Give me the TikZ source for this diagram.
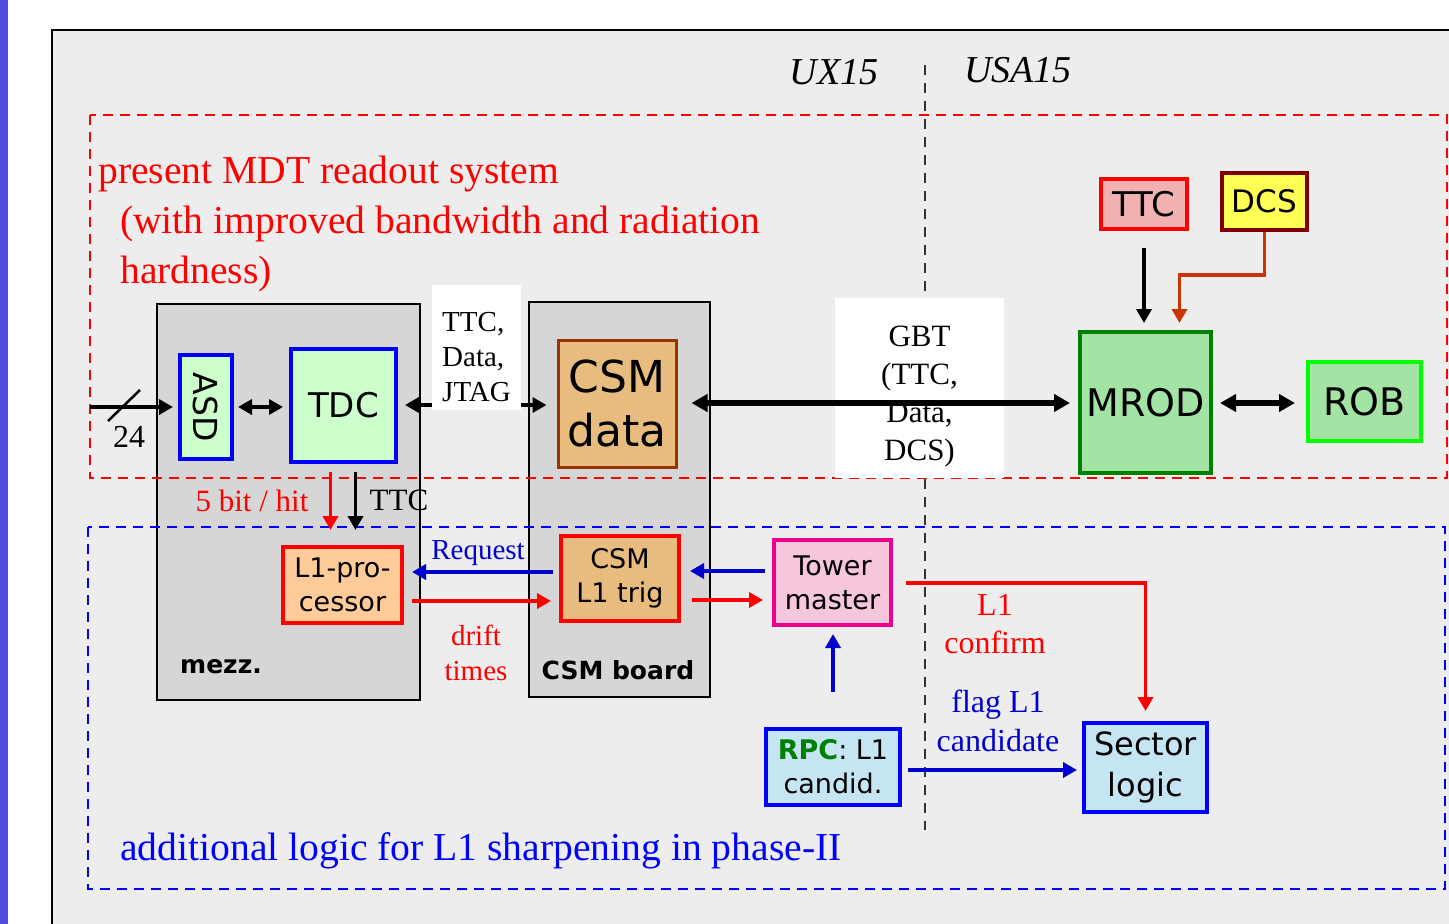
\documentclass[tikz,border=0pt]{standalone}
\usepackage{fontspec}
\setmainfont{Liberation Serif}
\setsansfont{DejaVu Sans}
\usetikzlibrary{arrows.meta,positioning}

\definecolor{barpurple}{RGB}{80,76,226}
\definecolor{panelgrey}{RGB}{237,237,237}
\definecolor{boardgrey}{RGB}{214,214,214}
\definecolor{chipgreen}{RGB}{204,255,204}
\definecolor{csmtan}{RGB}{232,188,126}
\definecolor{csmbrown}{RGB}{153,51,0}
\definecolor{rodgreen}{RGB}{163,227,163}
\definecolor{darkgreen}{RGB}{0,128,0}
\definecolor{ttcpink}{RGB}{242,178,178}
\definecolor{dcsyellow}{RGB}{255,255,85}
\definecolor{dcsred}{RGB}{128,0,0}
\definecolor{dcsline}{RGB}{204,51,0}
\definecolor{peach}{RGB}{255,204,153}
\definecolor{towerpink}{RGB}{245,198,220}
\definecolor{lightblue}{RGB}{198,229,242}
\definecolor{arrowblue}{RGB}{0,0,204}

\begin{document}
\begin{tikzpicture}[x=1pt,y=-1pt,
	main node/.style = {draw, line width=4pt, inner sep=0pt, align=center, font=\sffamily\fontsize{27}{34}\selectfont},
	board node/.style = {draw, fill=boardgrey, line width=1.5pt, inner sep=0pt},
	white node/.style = {fill=white, inner sep=0pt, align=center},
	text node/.style = {inner sep=0pt, align=center, font=\fontsize{31}{38}\selectfont},
	arr/.style = {-{Triangle[length=14pt,width=15pt]}, line width=3.5pt},
	arr both/.style = {{Triangle[length=14pt,width=15pt]}-{Triangle[length=14pt,width=15pt]}, line width=3.5pt},
	arr thick/.style = {{Triangle[length=16pt,width=17pt]}-{Triangle[length=16pt,width=17pt]}, line width=5.5pt},
	dash frame/.style = {dash pattern=on 10pt off 7pt, line width=2.5pt}]
	
	\clip (0,0) rectangle (1449,924);
	\fill[white] (0,0) rectangle (1449,924);
	\fill[barpurple] (0,0) rectangle (8,924);
	\filldraw[fill=panelgrey, line width=1.5pt] (52,30) rectangle (1480,960);
	
	\node[board node, minimum width=263pt, minimum height=396pt] (13) at (288.5,502) {};
	\node[board node, minimum width=181pt, minimum height=395pt] (14) at (619.5,499.5) {};
	
	\draw[dash frame, red] (90,115) rectangle (1447,478);
	\draw[dash frame, blue] (88,527) rectangle (1445,889);
	\draw[dash pattern=on 10pt off 8pt, line width=2.5pt, black!80] (925,65) -- (925,830);
	
	\node[white node, minimum width=169pt, minimum height=180pt,
		label={[align=center, font=\fontsize{31}{38}\selectfont, yshift=-9pt]center:{GBT\\(TTC,\\Data,\\DCS)}}] (16) at (919.5,388) {};
	
	\node[main node, fill=chipgreen, draw=blue, rotate=-90, minimum width=104pt, minimum height=52pt, font=\sffamily\fontsize{33}{40}\selectfont] (1) at (206,407) {ASD};
	\node[main node, fill=chipgreen, draw=blue, minimum width=105pt, minimum height=113pt, font=\sffamily\fontsize{34}{40}\selectfont] (2) at (343.5,405.5) {TDC};
	\node[main node, fill=csmtan, draw=csmbrown, line width=3pt, minimum width=118pt, minimum height=127pt, font=\sffamily\fontsize{44}{54}\selectfont] (3) at (617,403.5) {CSM\\data};
	\node[main node, fill=rodgreen, draw=darkgreen, minimum width=131pt, minimum height=141pt, font=\sffamily\fontsize{38}{46}\selectfont] (4) at (1145.5,402.5) {MROD};
	\node[main node, fill=rodgreen, draw=green, minimum width=113pt, minimum height=79pt, font=\sffamily\fontsize{38}{46}\selectfont] (5) at (1364.5,401.5) {ROB};
	\node[main node, fill=ttcpink, draw=red, line width=3.5pt, minimum width=86pt, minimum height=50pt, font=\sffamily\fontsize{34}{40}\selectfont] (6) at (1144,204) {TTC};
	\node[main node, fill=dcsyellow, draw=dcsred, minimum width=85pt, minimum height=57pt, font=\sffamily\fontsize{31}{38}\selectfont] (7) at (1264.5,201.5) {DCS};
	\node[main node, fill=peach, draw=red, minimum width=119pt, minimum height=76pt] (8) at (342.5,585) {L1-pro-\\cessor};
	\node[main node, fill=csmtan, draw=red, minimum width=118pt, minimum height=85pt] (9) at (620,578.5) {CSM\\L1 trig};
	\node[main node, fill=towerpink, draw=magenta, minimum width=117pt, minimum height=85pt] (10) at (832.5,582.5) {Tower\\master};
	\node[main node, fill=lightblue, draw=blue, minimum width=134pt, minimum height=76pt] (11) at (833,767) {\textcolor{darkgreen}{\textbf{RPC}}: L1\\candid.};
	\node[main node, fill=lightblue, draw=blue, minimum width=123pt, minimum height=89pt, font=\sffamily\fontsize{32}{41}\selectfont] (12) at (1145.5,767.5) {Sector\\logic};
	
	\coordinate (in) at (90,407);
	\draw[arr, shorten >=5pt] (in) -- (1.south |- in);
	\draw[line width=2.5pt] (108,421) -- (140,390);
	\draw[arr both, shorten <=4pt, shorten >=6pt] (1.north) -- (1.north -| 2.west);
	\draw[arr both, shorten <=7pt, shorten >=10pt] (2.east |- 0,405) -- (3.west |- 0,405);
	\draw[arr thick, shorten <=14pt, shorten >=8pt] (3.east |- 0,403) -- (4.west |- 0,403);
	\draw[arr thick, shorten <=7pt, shorten >=11pt] (4.east |- 0,403) -- (5.west |- 0,403);
	\draw[arr, shorten <=17pt, shorten >=7pt] (6.south) -- (6.south |- 4.north);
	\draw[arr, dcsline, shorten >=7pt] (7.south) -- ++(0,43) -| ([xshift=34pt]4.north);
	
	\draw[arr, red, shorten <=8pt, shorten >=15pt] ([xshift=-13pt]2.south) -- ([xshift=-13pt]2.south |- 8.north);
	\draw[arr, shorten <=8pt, shorten >=15pt] ([xshift=12pt]2.south) -- ([xshift=12pt]2.south |- 8.north);
	\draw[arr, arrowblue, shorten <=6pt, shorten >=8pt] (9.west |- 0,572) -- (8.east |- 0,572);
	\draw[arr, red, shorten <=8pt, shorten >=8pt] (8.east |- 0,601) -- (9.west |- 0,601);
	\draw[arr, arrowblue, shorten <=7pt, shorten >=9pt] (10.west |- 0,571) -- (9.east |- 0,571);
	\draw[arr, red, shorten <=11pt, shorten >=9pt] (9.east |- 0,600) -- (10.west |- 0,600);
	\draw[arr, arrowblue, shorten <=35pt, shorten >=7pt] (11.north) -- (11.north |- 10.south);
	\draw[arr, red, shorten <=13pt, shorten >=10pt] (10.east |- 0,583) -| (12.north);
	\draw[arr, arrowblue, shorten <=6pt, shorten >=5pt] (11.east |- 0,770) -- (12.west |- 0,770);
	
	\node[white node, minimum width=89pt, minimum height=125pt,
		label={[align=left, font=\fontsize{29}{35}\selectfont, yshift=-10pt]center:{TTC,\\Data,\\JTAG}}] (15) at (476.5,347.5) {};
	
	\node[text node, font=\bfseries\sffamily\fontsize{25}{30}\selectfont, anchor=west] (17) at (180,667) {mezz.};
	\node[text node, font=\bfseries\sffamily\fontsize{25}{30}\selectfont] (18) at (618,670) {CSM board};
	\node[text node, font=\itshape\fontsize{38}{46}\selectfont] (19) at (834,72) {UX15};
	\node[text node, font=\itshape\fontsize{38}{46}\selectfont] (20) at (1018,70) {USA15};
	\node[text node, red, align=left, anchor=north west, font=\fontsize{39.6}{50}\selectfont] (21) at (98,156) {present MDT readout system\\\hspace*{22pt}(with improved bandwidth and radiation\\\hspace*{22pt}hardness)};
	\node[text node, blue, anchor=base west, font=\fontsize{39.6}{50}\selectfont] (22) at (120,860) {additional logic for L1 sharpening in phase-II};
	\node[text node, font=\fontsize{32}{38}\selectfont] (23) at (129,437) {24};
	\node[text node, red] (24) at (252,501) {5 bit / hit};
	\node[text node] (25) at (399,500) {TTC};
	\node[text node, arrowblue, font=\fontsize{29}{35}\selectfont] (26) at (478,553) {Request};
	\node[text node, red, font=\fontsize{29}{35}\selectfont] (27) at (476,653) {drift\\times};
	\node[text node, red, font=\fontsize{32}{38}\selectfont] (28) at (995,624) {L1\\confirm};
	\node[text node, arrowblue, font=\fontsize{32}{39}\selectfont] (29) at (998,721) {flag L1\\candidate};
	
\end{tikzpicture}
\end{document}
